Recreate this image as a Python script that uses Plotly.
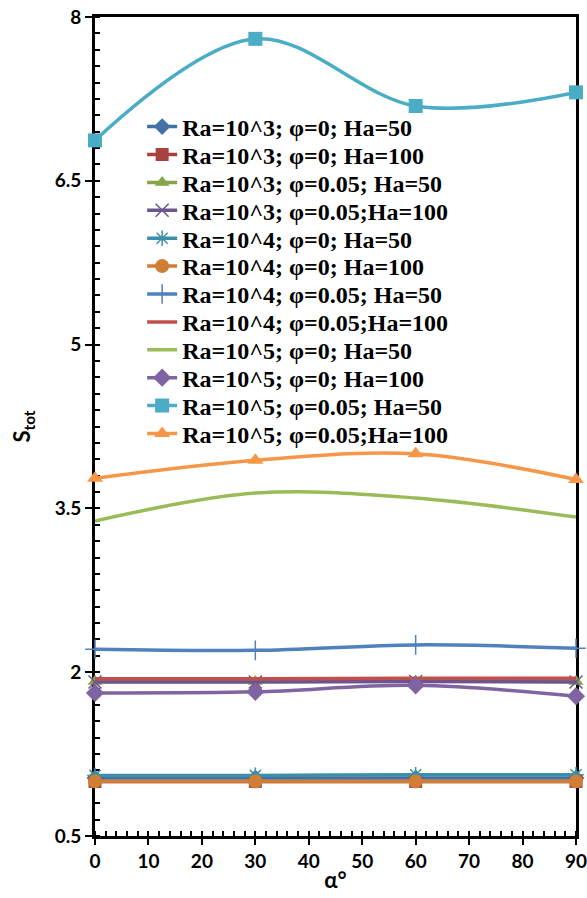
import plotly.graph_objects as go

alpha = [0, 30, 60, 90]

names = [
    "Ra=10^3; φ=0; Ha=50",
    "Ra=10^3; φ=0; Ha=100",
    "Ra=10^3; φ=0.05; Ha=50",
    "Ra=10^3; φ=0.05;Ha=100",
    "Ra=10^4; φ=0; Ha=50",
    "Ra=10^4; φ=0; Ha=100",
    "Ra=10^4; φ=0.05; Ha=50",
    "Ra=10^4; φ=0.05;Ha=100",
    "Ra=10^5; φ=0; Ha=50",
    "Ra=10^5; φ=0; Ha=100",
    "Ra=10^5; φ=0.05; Ha=50",
    "Ra=10^5; φ=0.05;Ha=100",
]

s_ra3_p0_h50 = [1.03, 1.03, 1.03, 1.03]
s_ra3_p0_h100 = [1.00, 1.00, 1.00, 1.00]
s_ra3_p05_h50 = [1.915, 1.915, 1.92, 1.915]
s_ra3_p05_h100 = [1.91, 1.91, 1.915, 1.91]
s_ra4_p0_h50 = [1.055, 1.055, 1.06, 1.06]
s_ra4_p0_h100 = [1.00, 1.00, 1.00, 1.00]
s_ra4_p05_h50 = [2.21, 2.20, 2.25, 2.22]
s_ra4_p05_h100 = [1.94, 1.94, 1.945, 1.945]
s_ra5_p0_h50 = [3.385, 3.64, 3.595, 3.42]
s_ra5_p0_h100 = [1.81, 1.82, 1.88, 1.78]
s_ra5_p05_h50 = [6.87, 7.80, 7.185, 7.31]
s_ra5_p05_h100 = [3.775, 3.94, 4.00, 3.765]

series = [s_ra3_p0_h50, s_ra3_p0_h100, s_ra3_p05_h50, s_ra3_p05_h100,
          s_ra4_p0_h50, s_ra4_p0_h100, s_ra4_p05_h50, s_ra4_p05_h100,
          s_ra5_p0_h50, s_ra5_p0_h100, s_ra5_p05_h50, s_ra5_p05_h100]

colors = ["#4470A8", "#A8423E", "#86A44A", "#6E548D", "#3B8FA6", "#D07E36",
          "#4F81BD", "#C0504D", "#9BBB59", "#8064A2", "#4BACC6", "#F79646"]
symbols = ["diamond", "square", "triangle-up", "x-thin-open", "asterisk-open", "circle",
           "cross-thin-open", None, None, "diamond", "square", "triangle-up"]
sizes = [13, 13, 13, 13, 13, 14, 14, 0, 0, 14, 14, 14]

# plot area geometry (px) used to place the 12 single-entry legends
H, MT, MB = 898, 17, 62
plot_h = H - MT - MB
legend_top_px = 127
legend_step_px = 27.9

fig = go.Figure()
legend_layouts = {}
for i, (name, ys, c, sym, sz) in enumerate(zip(names, series, colors, symbols, sizes)):
    if sym is None:
        mode = "lines"
        marker = dict()
    else:
        mode = "lines+markers"
        if sym.endswith("open"):
            marker = dict(symbol=sym, size=sz, color=c, line=dict(color=c, width=1.5))
        else:
            marker = dict(symbol=sym, size=sz, color=c, line=dict(width=0))
    lg = "legend" if i == 0 else f"legend{i + 1}"
    fig.add_trace(go.Scatter(
        x=alpha, y=ys, name=name, mode=mode, marker=marker, legend=lg,
        cliponaxis=False,
        line=dict(color=c, width=3.5, shape="spline", smoothing=1),
    ))
    ypx = legend_top_px + i * legend_step_px
    legend_layouts[lg] = dict(
        x=0.098, y=(H - MB - ypx) / plot_h, xanchor="left", yanchor="middle",
        bgcolor="rgba(0,0,0,0)",
        font=dict(family="Liberation Serif", size=24, color="black", weight="bold"),
        itemwidth=30,
    )

fig.update_layout(
    width=587, height=898,
    margin=dict(l=95, r=11, t=MT, b=MB),
    paper_bgcolor="white", plot_bgcolor="white",
    showlegend=True,
    font=dict(family="Lato", color="black"),
    **legend_layouts,
)

fig.update_xaxes(
    range=[0, 90], tickvals=[0, 10, 20, 30, 40, 50, 60, 70, 80, 90],
    showgrid=False, zeroline=False, automargin=False, layer="below traces",
    ticklabeloverflow="allow",
    showline=True, linecolor="black", linewidth=3, mirror=True,
    ticks="outside", ticklen=6, tickwidth=1.5, tickcolor="black",
    minor=dict(dtick=2, ticks="inside", ticklen=5, tickwidth=1.5, tickcolor="black", showgrid=False),
    tickfont=dict(family="Lato", size=19, color="black", weight="bold"),
    title=dict(text="α°", font=dict(family="Lato", size=22, color="black", weight="bold"), standoff=2),
)
fig.update_yaxes(
    range=[0.5, 8], tickvals=[0.5, 2, 3.5, 5, 6.5, 8], ticktext=["0.5", "2", "3.5", "5", "6.5", "8"],
    showgrid=False, zeroline=False, automargin=False, layer="below traces",
    ticklabeloverflow="allow",
    showline=True, linecolor="black", linewidth=3, mirror=True,
    ticks="outside", ticklen=7, tickwidth=1.5, tickcolor="black",
    minor=dict(dtick=0.15, tick0=0.5, ticks="inside", ticklen=5, tickwidth=1.5, tickcolor="black", showgrid=False),
    tickfont=dict(family="Lato", size=19, color="black", weight="bold"),
    title=dict(text="S<sub>tot</sub>", font=dict(family="Lato", size=22, color="black", weight="bold"), standoff=18),
)

fig.write_html("out.html")
